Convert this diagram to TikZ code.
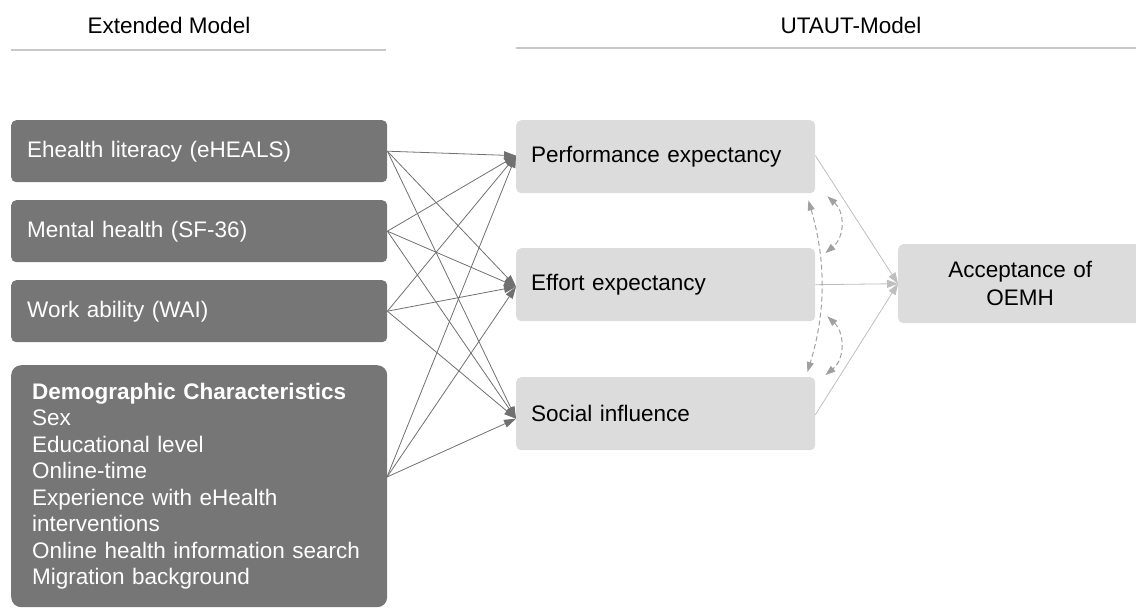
\documentclass[tikz,border=0pt]{standalone}
\usepackage{fontspec}
\setmainfont{Liberation Sans}
\usetikzlibrary{arrows.meta}

\definecolor{darkbox}{HTML}{767676}
\definecolor{lightbox}{HTML}{DCDCDC}
\definecolor{rulegray}{HTML}{C8C8C8}
\definecolor{arrowgray}{HTML}{707070}
\definecolor{linkgray}{HTML}{BEBEBE}
\definecolor{dashgray}{HTML}{A0A0A0}

\tikzset{
	extbox/.style={fill=darkbox, text=white, rounded corners=5pt, anchor=north west,
		minimum width=376pt, minimum height=62pt, inner xsep=16pt, inner ysep=0pt,
		text width=344pt, align=left},
	utbox/.style={fill=lightbox, text=black, rounded corners=5pt, anchor=north west,
		minimum width=299pt, minimum height=73pt, inner xsep=15pt, inner ysep=0pt,
		text width=269pt, align=left},
	pathin/.style={draw=arrowgray, line width=0.8pt, -{Triangle[length=12pt,width=8pt]}, arrowgray},
	pathout/.style={draw=linkgray, line width=0.8pt, -{Triangle[length=11pt,width=8pt]}, linkgray},
	covar/.style={draw=dashgray, line width=1pt, dash pattern=on 5pt off 3pt,
		{Triangle[length=10pt,width=7pt]}-{Triangle[length=10pt,width=7pt]}, dashgray}
}

\begin{document}
\begin{tikzpicture}[x=1pt, y=-1pt, font=\fontsize{22.5}{26.5}\selectfont]
	\useasboundingbox (0,0) rectangle (1136,609);

	% column headers
	\node (hext) at (169,25) {Extended Model};
	\node (hutaut) at (851,25) {UTAUT-Model};
	\draw[rulegray, line width=2pt] (11,50) to (386,50);
	\draw[rulegray, line width=2pt] (516,48) to (1136,48);

	% extended model
	\node[extbox] (ehl) at (11,120) {Ehealth literacy (eHEALS)};
	\node[extbox] (mh) at (11,200) {Mental health (SF-36)};
	\node[extbox] (wai) at (11,280) {Work ability (WAI)};
	\node[extbox, minimum height=242pt, rounded corners=10pt, inner xsep=21pt, text width=334pt] (demo) at (11,365)
		{\textbf{Demographic Characteristics}\\Sex\\Educational level\\Online-time\\Experience with eHealth\\interventions\\Online health information search\\Migration background};
	\coordinate (demoout) at (387,477);

	% utaut constructs
	\node[utbox] (pe) at (516,120) {Performance expectancy};
	\node[utbox] (ee) at (516,248) {Effort expectancy};
	\node[utbox] (si) at (516,377) {Social influence};
	\node[fill=lightbox, rounded corners=5pt, anchor=north west, minimum width=244pt, minimum height=79pt,
		text width=214pt, align=center, inner ysep=0pt, font=\fontsize{22.5}{28}\selectfont] (acc) at (898,244)
		{Acceptance of\\OEMH};

	% every predictor into every construct
	\foreach \src in {ehl.east, mh.east, wai.east, demoout} {
		\draw[pathin] (\src) to ([yshift=1pt]pe.west);
		\draw[pathin] (\src) to ([yshift=-2pt]ee.west);
		\draw[pathin] (\src) to ([yshift=-5pt]si.west);
	}

	% constructs into acceptance
	\draw[pathout] ([yshift=1pt]pe.east) to (acc.west);
	\draw[pathout] (ee.east) to (acc.west);
	\draw[pathout] ([yshift=-1pt]si.east) to (acc.west);

	% correlations between constructs
	\draw[covar] ([shift={(-7,7)}]pe.south east) .. controls (826,260) and (826,312) .. ([shift={(-8,-5)}]si.north east);
	\draw[covar] ([shift={(12,3)}]pe.south east) .. controls (845,212) and (845,237) .. ([shift={(10,5)}]ee.north east);
	\draw[covar] ([shift={(12,-5)}]ee.south east) .. controls (845,333) and (845,359) .. ([shift={(10,-2)}]si.north east);
\end{tikzpicture}
\end{document}
